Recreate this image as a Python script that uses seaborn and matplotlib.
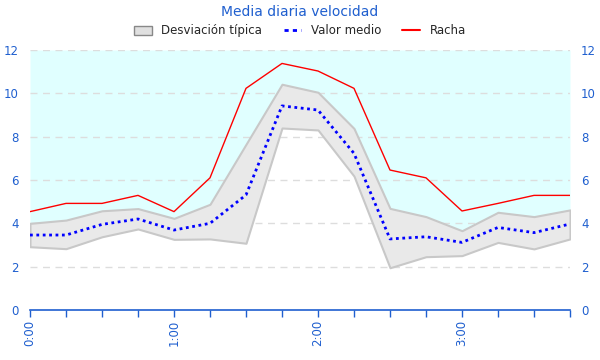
import numpy as np
import pandas as pd
import matplotlib
matplotlib.use('Agg')
import matplotlib.pyplot as plt
import seaborn as sns
from matplotlib.patches import Patch
from matplotlib.lines import Line2D

# 15-minute steps from 0:00 to 3:45
horas = ['0:00', '0:15', '0:30', '0:45', '1:00', '1:15', '1:30', '1:45',
         '2:00', '2:15', '2:30', '2:45', '3:00', '3:15', '3:30', '3:45']
racha = [4.54, 4.92, 4.92, 5.29, 4.54, 6.10, 10.23, 11.38,
         11.03, 10.23, 6.46, 6.10, 4.57, 4.92, 5.29, 5.29]
media = [3.46, 3.46, 3.95, 4.20, 3.69, 4.00, 5.31, 9.42,
         9.23, 7.23, 3.28, 3.38, 3.12, 3.81, 3.57, 3.97]
desv_sup = [4.00, 4.15, 4.58, 4.68, 4.23, 4.88, 7.65, 10.42,
            10.05, 8.38, 4.69, 4.31, 3.66, 4.51, 4.31, 4.62]
desv_inf = [2.92, 2.83, 3.38, 3.74, 3.26, 3.28, 3.08, 8.40,
            8.31, 6.18, 1.95, 2.46, 2.51, 3.12, 2.82, 3.28]

df = pd.DataFrame({'hora': horas, 'racha': racha, 'media': media,
                   'sup': desv_sup, 'inf': desv_inf})
df['x'] = np.arange(len(df))

azul = '#1f5fcf'
sns.set_theme(style='white')
plt.rcParams['font.family'] = ['DejaVu Sans']

fig = plt.figure(figsize=(6, 3.6), dpi=100)
ax = fig.add_axes([0.05, 0.1389, 0.90, 0.7222])

# background above the band, then the band itself
ax.fill_between(df['x'], df['sup'], 12, color='#e0ffff', lw=0, zorder=1)
for y in range(2, 13, 2):
    ax.axhline(y, color='#dddddd', lw=1, ls=(0, (5, 4)), zorder=1.5)
ax.fill_between(df['x'], df['inf'], df['sup'], facecolor='#e9e9e9',
                edgecolor='#c8c8c8', lw=1.5, zorder=2)

sns.lineplot(data=df, x='x', y='racha', ax=ax, color='red', lw=1, zorder=4)
sns.lineplot(data=df, x='x', y='media', ax=ax, color='blue', lw=2,
             ls=(0, (1, 1.3)), zorder=5)

ax.set_xlim(0, len(df) - 1)
ax.set_ylim(0, 12)
ax.set_yticks(range(0, 13, 2))

ax.set_xticks(df['x'])
ax.set_xticklabels([h if h.endswith(':00') else '' for h in horas],
                   rotation=90, color=azul, fontsize=8.5)
ax.set_xlabel('')
ax.set_ylabel('')
ax.tick_params(axis='x', direction='out', length=5, width=1, color=azul,
               bottom=True, pad=2)
ax.tick_params(axis='y', length=0, labelcolor=azul, labelsize=8.5,
               labelleft=True, labelright=True, pad=8)
for s in ['left', 'right', 'top']:
    ax.spines[s].set_visible(False)
ax.spines['bottom'].set_color(azul)
ax.spines['bottom'].set_linewidth(1.2)
ax.set_facecolor('white')

fig.text(0.5, 0.967, 'Media diaria velocidad', ha='center', va='center',
         color=azul, fontsize=10)
handles = [Patch(facecolor='#e0e0e0', edgecolor='#888888', lw=1),
           Line2D([], [], color='blue', lw=2, ls=(0, (1.5, 1.5))),
           Line2D([], [], color='red', lw=1.5)]
fig.legend(handles, ['Desviación típica', 'Valor medio', 'Racha'],
           loc='center', bbox_to_anchor=(0.5, 0.914), ncol=3, frameon=False,
           fontsize=8.5, handlelength=1.5, handleheight=0.8,
           columnspacing=1.8, handletextpad=0.8)

fig.savefig('out.png', dpi=100)
